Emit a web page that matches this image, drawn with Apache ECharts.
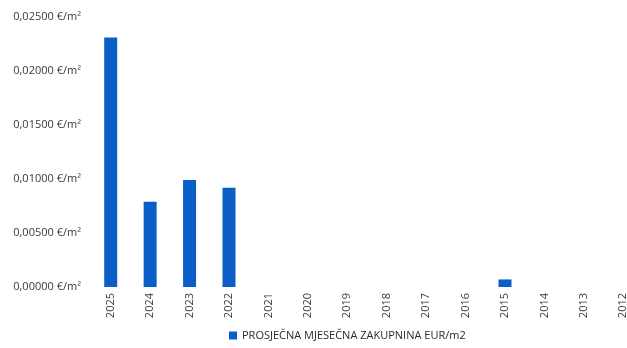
<!DOCTYPE html>
<html>
<head>
<meta charset="utf-8">
<script src="https://cdn.jsdelivr.net/npm/echarts@6/dist/echarts.min.js"></script>
<style>
  html, body { margin: 0; padding: 0; background: #fff; }
  #chart { width: 627px; height: 348px; }
</style>
</head>
<body>
<div id="chart"></div>
<script>
const years = ['2025', '2024', '2023', '2022', '2021', '2020', '2019', '2018', '2017', '2016', '2015', '2014', '2013', '2012']
const rent = [0.0231, 0.0079, 0.0099, 0.0092, 0, 0, 0, 0, 0, 0, 0.0007, 0, 0, 0]
const seriesName = 'PROSJEČNA MJESEČNA ZAKUPNINA EUR/m2'

const chart = echarts.init(document.getElementById('chart'), null, { renderer: 'canvas' })

const option = {
  animation: false,
  textStyle: { fontFamily: 'Open Sans' },
  grid: {
    top: 17,
    bottom: 61,
    left: 91,
    width: 552,
    containLabel: false,
    outerBoundsMode: 'none'
  },
  legend: {
    bottom: 2,
    left: 224,
    itemWidth: 8,
    itemHeight: 8,
    itemGap: 5,
    icon: 'rect',
    textStyle: { color: '#2a2a2a', fontSize: 11, fontFamily: 'Open Sans' },
    data: [seriesName]
  },
  xAxis: {
    type: 'category',
    data: years,
    axisLine: { show: false },
    axisTick: { show: false },
    axisLabel: {
      rotate: 90,
      color: '#3a3a3a',
      fontSize: 11,
      margin: 6,
      interval: 0
    }
  },
  yAxis: {
    type: 'value',
    min: 0,
    max: 0.025,
    interval: 0.005,
    axisLine: { show: false },
    axisTick: { show: false },
    splitLine: { show: false },
    axisLabel: {
      color: '#3a3a3a',
      fontSize: 11,
      margin: 10,
      formatter: v => v.toFixed(5).replace('.', ',') + ' €/m²'
    }
  },
  series: [
    {
      name: seriesName,
      type: 'bar',
      data: rent,
      barWidth: 13,
      itemStyle: { color: '#0b5ec6' }
    }
  ]
}

chart.setOption(option)
</script>
</body>
</html>
